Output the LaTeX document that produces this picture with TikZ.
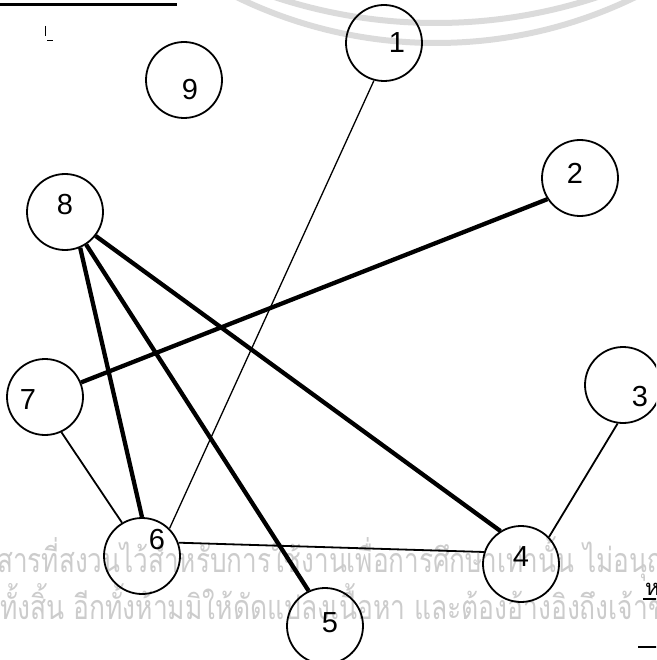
\documentclass[tikz,border=0pt]{standalone}
\usepackage{fontspec}
\setmainfont{Liberation Sans}
\newfontfamily\thaifont[Script=Thai]{Loma}
\definecolor{wmgray}{gray}{0.80}
\definecolor{ringgray}{gray}{0.86}
\newsavebox\wmA
\newsavebox\wmB
\newlength\wmAw
\newlength\wmBw
\begin{document}
\sbox\wmA{\color{wmgray}\thaifont\fontsize{34}{34}\selectfont สารที่สงวนไว้สำหรับการใช้งานเพื่อการศึกษาเท่านั้น ไม่อนุญ}%
\sbox\wmB{\color{wmgray}\thaifont\fontsize{34}{34}\selectfont ทั้งสิ้น อีกทั้งห้ามมิให้ดัดแปลงเนื้อหา และต้องอ้างอิงถึงเจ้าข}%
\setlength\wmAw{\wd\wmA}%
\setlength\wmBw{\wd\wmB}%
\pgfmathsetmacro\sxA{672/\wmAw}%
\pgfmathsetmacro\sxB{666/\wmBw}%
\begin{tikzpicture}[x=1pt,y=-1pt,
  vertex/.style={circle, draw, line width=1.8pt, minimum size=76pt, inner sep=0pt},
  digit/.style={font=\fontsize{29}{29}\selectfont, inner sep=0pt},
  boldedge/.style={line width=4.3pt},
  thinedge/.style={line width=1.8pt},
  hairedge/.style={line width=1.3pt},
  ring/.style={draw=ringgray, line width=6pt},
  wm/.style={text=wmgray, inner sep=0pt, anchor=base west}]
\useasboundingbox (0,0) rectangle (656,660);
\clip (0,0) rectangle (656,660);
% watermark
\draw[ring] (436,-412) circle[radius=455];
\draw[ring] (436,-490) circle[radius=513];
\node[wm] (wm1) at (-3,572) {\scalebox{\sxA}[1]{\usebox\wmA}};
\node[wm] (wm2) at (0,619) {\scalebox{\sxB}[1]{\usebox\wmB}};
% scan marks
\draw[line width=3pt] (0,5) -- (177,5);
\draw[line width=0.9pt] (45,26) -- (45,36);
\draw[line width=0.9pt] (47,40) -- (53,40);
\node[inner sep=0pt, anchor=base west] (mark) at (645,595) {\thaifont\fontsize{22}{22}\selectfont ห};
\draw[line width=2.5pt] (643,599) -- (660,599);
\draw[line width=2.5pt] (638,647) -- (660,647);
% vertices
\node[vertex] (n1) at (384,43) {};
\node[vertex] (n2) at (580,178) {};
\node[vertex] (n3) at (623,385) {};
\node[vertex] (n4) at (521,564) {};
\node[vertex] (n5) at (325,626) {};
\node[vertex] (n6) at (142,556) {};
\node[vertex] (n7) at (45,397) {};
\node[vertex] (n8) at (65,212) {};
\node[vertex] (n9) at (184,80) {};
% labels
\node[digit] (t1) at (397,43) {1};
\node[digit] (t2) at (575,173) {2};
\node[digit] (t3) at (640,397) {3};
\node[digit] (t4) at (521,557) {4};
\node[digit] (t5) at (330,623) {5};
\node[digit] (t6) at (157,540) {6};
\node[digit] (t7) at (28,400) {7};
\node[digit] (t8) at (65,205) {8};
\node[digit] (t9) at (190,90) {9};
% edges
\draw[hairedge] (n1.255) -- (n6.45);
\draw[boldedge] (n2.213) -- (n7.22);
\draw[boldedge] (n8.293) -- (n6.90);
\draw[boldedge] (n8.303) -- (n5.115);
\draw[boldedge] (n8.322) -- (n4.122);
\draw[thinedge] (n7.295) -- (n6.121);
\draw[thinedge] (n6.20) -- (n4.162);
\draw[thinedge] (n3.262) -- (n4.44);
\end{tikzpicture}
\end{document}
